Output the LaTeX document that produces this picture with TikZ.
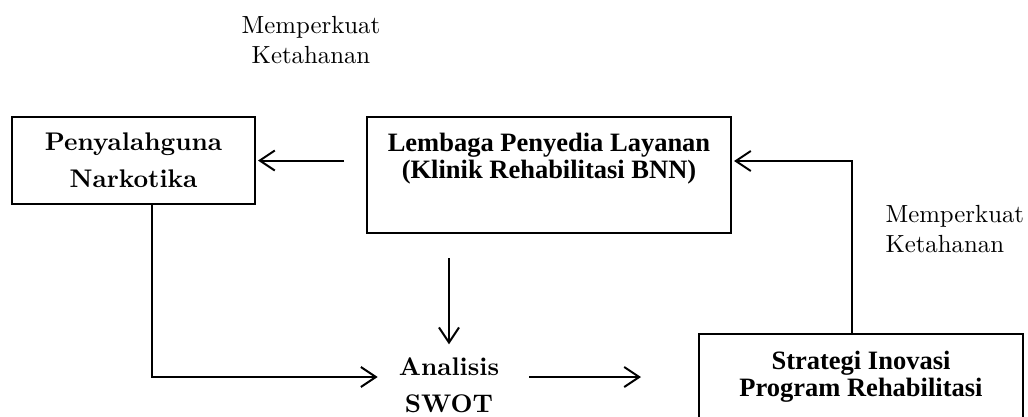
\documentclass[tikz,border=0pt]{standalone}
\usepackage{fontspec}
\newfontfamily\timesFont{Liberation Serif}
\newfontfamily\bookFont{lmroman10-regular.otf}[BoldFont=lmroman10-bold.otf]
\usetikzlibrary{arrows.meta}

\begin{document}
\begin{tikzpicture}[%%
  x=1pt,y=-1pt,%%
  boxStyle/.style={draw,line width=2pt,inner sep=0pt},%%
  arrowStyle/.style={line width=2pt,-{Straight Barb[length=15pt,width=20pt]}},%%
  boldPala/.style={font=\bookFont\fontsize{25.5}{37}\selectfont\bfseries,align=center},%%
  boldTimes/.style={font=\timesFont\fontsize{26.5}{27}\selectfont\bfseries,align=center},%%
  noteStyle/.style={font=\bookFont\fontsize{24.8}{30}\selectfont,align=center}%%
]
%%
%%
\path[use as bounding box,clip] (0,0) rectangle (1028,416);
\coordinate (bendLeft) at (152,377);
\coordinate (bendRight) at (852,161);
%%
%% The boxes and the texts.
\node[boxStyle,boldPala,minimum width=243,minimum height=87] (penyalahguna)
  at (133.5,160.5) {Penyalahguna\\Narkotika};
\node[boxStyle,minimum width=364,minimum height=116,%%
  label={[boldTimes,inner sep=0pt,anchor=north,yshift=-17pt]north:%%
    Lembaga Penyedia Layanan\\(Klinik Rehabilitasi BNN)}] (lembaga)
  at (549,175) {};
\node[boxStyle,boldTimes,minimum width=324,minimum height=86] (strategi)
  at (861,377) {Strategi Inovasi\\Program Rehabilitasi};
\node[boldPala,inner sep=0pt] (swot) at (449,385) {Analisis\\SWOT};
\node[noteStyle] (noteTop) at (311,40) {Memperkuat\\Ketahanan};
\node[noteStyle,align=left,anchor=west] (noteRight) at (882,229)
  {Memperkuat\\Ketahanan};
%%
%% The arrows.
\draw[arrowStyle,shorten <=22pt,shorten >=2pt] (lembaga.west |- penyalahguna.east)
  -- (penyalahguna.east);
\draw[arrowStyle,shorten <=24pt,shorten >=13pt] (lembaga.south -| swot.north)
  -- (swot.north);
\draw[arrowStyle,shorten >=21pt] (penyalahguna.south -| bendLeft) -- (bendLeft)
  -- (bendLeft -| swot.west);
\draw[arrowStyle,shorten <=30pt,shorten >=57pt] (bendLeft -| swot.east)
  -- (bendLeft -| strategi.west);
\draw[arrowStyle,shorten >=2pt] (strategi.north -| bendRight) -- (bendRight)
  -- (bendRight -| lembaga.east);
\end{tikzpicture}
\end{document}
